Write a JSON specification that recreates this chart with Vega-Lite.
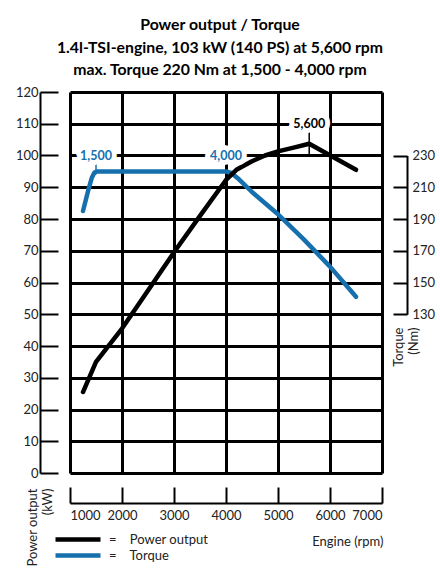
{
  "$schema": "https://vega.github.io/schema/vega-lite/v6.json",
  "width": 312,
  "height": 381,
  "autosize": {"type": "none"},
  "padding": {"left": 70, "top": 92, "right": 58, "bottom": 101},
  "background": "white",
  "title": {
    "text": ["Power output / Torque", "1.4l-TSI-engine, 103 kW (140 PS) at 5,600 rpm", "max. Torque 220 Nm at 1,500 - 4,000 rpm"],
    "anchor": "middle",
    "frame": "group",
    "dx": -6,
    "offset": 7,
    "font": "Lato",
    "fontSize": 15.8,
    "fontWeight": "bold",
    "lineHeight": 22.5,
    "color": "black"
  },
  "datasets": {
    "power": [
      {"series": "Power output", "rpm": 1250, "power": 25.5},
      {"series": "Power output", "rpm": 1500, "power": 35},
      {"series": "Power output", "rpm": 2000, "power": 45.5},
      {"series": "Power output", "rpm": 2500, "power": 57.5},
      {"series": "Power output", "rpm": 3000, "power": 69.5},
      {"series": "Power output", "rpm": 3500, "power": 81},
      {"series": "Power output", "rpm": 4000, "power": 92.3},
      {"series": "Power output", "rpm": 4200, "power": 95.5},
      {"series": "Power output", "rpm": 4500, "power": 98.2},
      {"series": "Power output", "rpm": 4750, "power": 100},
      {"series": "Power output", "rpm": 5000, "power": 101.3},
      {"series": "Power output", "rpm": 5300, "power": 102.5},
      {"series": "Power output", "rpm": 5600, "power": 103.7},
      {"series": "Power output", "rpm": 6500, "power": 95.5}
    ],
    "torque": [
      {"series": "Torque", "rpm": 1250, "torque": 195},
      {"series": "Torque", "rpm": 1350, "torque": 208},
      {"series": "Torque", "rpm": 1420, "torque": 216},
      {"series": "Torque", "rpm": 1470, "torque": 219.3},
      {"series": "Torque", "rpm": 1520, "torque": 220},
      {"series": "Torque", "rpm": 4000, "torque": 220},
      {"series": "Torque", "rpm": 4100, "torque": 219},
      {"series": "Torque", "rpm": 4250, "torque": 215},
      {"series": "Torque", "rpm": 4500, "torque": 207},
      {"series": "Torque", "rpm": 5000, "torque": 193},
      {"series": "Torque", "rpm": 5500, "torque": 177},
      {"series": "Torque", "rpm": 6000, "torque": 160},
      {"series": "Torque", "rpm": 6500, "torque": 141}
    ],
    "marks": [
      {"series": "Torque", "rpm": 1500, "power": 100, "to": 94, "label": "1,500"},
      {"series": "Torque", "rpm": 4000, "power": 100, "to": 100, "label": "4,000"},
      {"series": "Power output", "rpm": 5600, "power": 110, "to": 100, "label": "5,600"}
    ]
  },
  "layer": [
    {
      "data": {"name": "torque"},
      "mark": {"type": "line", "strokeWidth": 4.5, "strokeCap": "round", "strokeJoin": "round"},
      "encoding": {
        "x": {"field": "rpm", "type": "quantitative", "scale": {"domain": [1000, 7000], "nice": false}, "axis": null},
        "y": {
          "field": "torque",
          "type": "quantitative",
          "scale": {"domain": [130, 230], "nice": false, "zero": false, "range": [{"expr": "height*70/120"}, {"expr": "height*20/120"}]},
          "axis": {
            "orient": "right",
            "offset": 25,
            "values": [130, 150, 170, 190, 210, 230],
            "grid": false,
            "tickSize": -14,
            "labelPadding": 19,
            "title": ["Torque", "(Nm)"],
            "titleAngle": 270,
            "titleAlign": "right",
            "titleBaseline": "top",
            "titleX": -15,
            "titleY": 235
          }
        },
        "color": {"field": "series", "type": "nominal", "scale": {"domain": ["Power output", "Torque"], "range": ["black", "#1670ad"]}, "legend": {"labelExpr": "'=\u00a0\u00a0\u00a0\u00a0' + datum.label"}}
      }
    },
    {
      "layer": [
        {
          "data": {"name": "power"},
          "mark": {"type": "line", "strokeWidth": 4.5, "strokeCap": "round", "strokeJoin": "round"},
          "encoding": {
            "x": {
              "field": "rpm",
              "type": "quantitative",
              "scale": {"domain": [1000, 7000], "nice": false},
              "axis": {"orient": "bottom", "values": [1000, 2000, 3000, 4000, 5000, 6000, 7000], "grid": true, "domain": false, "ticks": false, "labels": false, "title": null}
            },
            "y": {
              "field": "power",
              "type": "quantitative",
              "scale": {"domain": [0, 120], "nice": false},
              "axis": {"orient": "left", "values": [0, 10, 20, 30, 40, 50, 60, 70, 80, 90, 100, 110, 120], "grid": true, "domain": false, "ticks": false, "labels": false, "title": null}
            },
            "color": {"field": "series", "type": "nominal", "scale": {"domain": ["Power output", "Torque"], "range": ["black", "#1670ad"]}, "legend": {"labelExpr": "'=\u00a0\u00a0\u00a0\u00a0' + datum.label"}}
          }
        },
        {
          "data": {"name": "marks"},
          "mark": {"type": "rule", "strokeWidth": 1.5},
          "encoding": {
            "x": {
              "field": "rpm",
              "type": "quantitative",
              "axis": {
                "orient": "bottom",
                "values": [1000, 2000, 3000, 4000, 5000, 6000, 7000],
                "format": "d",
                "offset": 30,
                "grid": false,
                "tickSize": -16,
                "labelPadding": 22,
                "title": "Engine (rpm)",
                "titleAnchor": "end",
                "titleAlign": "right",
                "titleBaseline": "alphabetic",
                "titleX": 313,
                "titleY": 42
              }
            },
            "y": {
              "field": "power",
              "type": "quantitative",
              "axis": {
                "orient": "left",
                "values": [0, 10, 20, 30, 40, 50, 60, 70, 80, 90, 100, 110, 120],
                "offset": 30,
                "grid": false,
                "tickSize": -18,
                "labelPadding": 20,
                "title": ["Power output", "(kW)"],
                "titleAngle": 270,
                "titleAlign": "right",
                "titleBaseline": "top",
                "titleX": -14,
                "titleY": 396
              }
            },
            "y2": {"field": "to"},
            "color": {"condition": {"test": "datum.series == 'Torque'", "value": "#1670ad"}, "value": "black"}
          }
        },
        {
          "data": {"name": "marks"},
          "mark": {"type": "text", "font": "Lato", "fontSize": 12.5, "fontWeight": "bold", "baseline": "middle", "stroke": "white", "strokeWidth": 10, "strokeJoin": "round", "color": "white"},
          "encoding": {
            "x": {"field": "rpm", "type": "quantitative", "axis": null},
            "y": {"field": "power", "type": "quantitative", "axis": null},
            "text": {"field": "label"}
          }
        },
        {
          "data": {"name": "marks"},
          "mark": {"type": "text", "font": "Lato", "fontSize": 12.5, "fontWeight": "bold", "baseline": "middle"},
          "encoding": {
            "x": {"field": "rpm", "type": "quantitative", "axis": null},
            "y": {"field": "power", "type": "quantitative", "axis": null},
            "text": {"field": "label"},
            "color": {"condition": {"test": "datum.series == 'Torque'", "value": "#1670ad"}, "value": "black"}
          }
        }
      ],
      "resolve": {"axis": {"x": "independent", "y": "independent"}}
    }
  ],
  "resolve": {"scale": {"y": "independent"}, "axis": {"x": "independent"}},
  "config": {
    "font": "Lato",
    "view": {"stroke": null},
    "axis": {
      "domainColor": "black",
      "domainWidth": 2,
      "tickColor": "black",
      "tickWidth": 2,
      "labelColor": "#222",
      "labelFont": "Lato",
      "labelFontSize": 13,
      "titleColor": "#222",
      "titleFont": "Lato",
      "titleFontSize": 13,
      "titleFontWeight": "normal",
      "gridColor": "black",
      "gridWidth": 3,
      "gridOpacity": 1
    },
    "legend": {
      "orient": "none",
      "legendX": -17,
      "legendY": 440,
      "title": null,
      "padding": 0,
      "symbolType": "stroke",
      "symbolSize": 2025,
      "symbolStrokeWidth": 4.5,
      "clipHeight": 15,
      "rowPadding": 1,
      "labelFont": "Lato",
      "labelFontSize": 13,
      "labelColor": "#222",
      "labelOffset": 6
    }
  }
}
